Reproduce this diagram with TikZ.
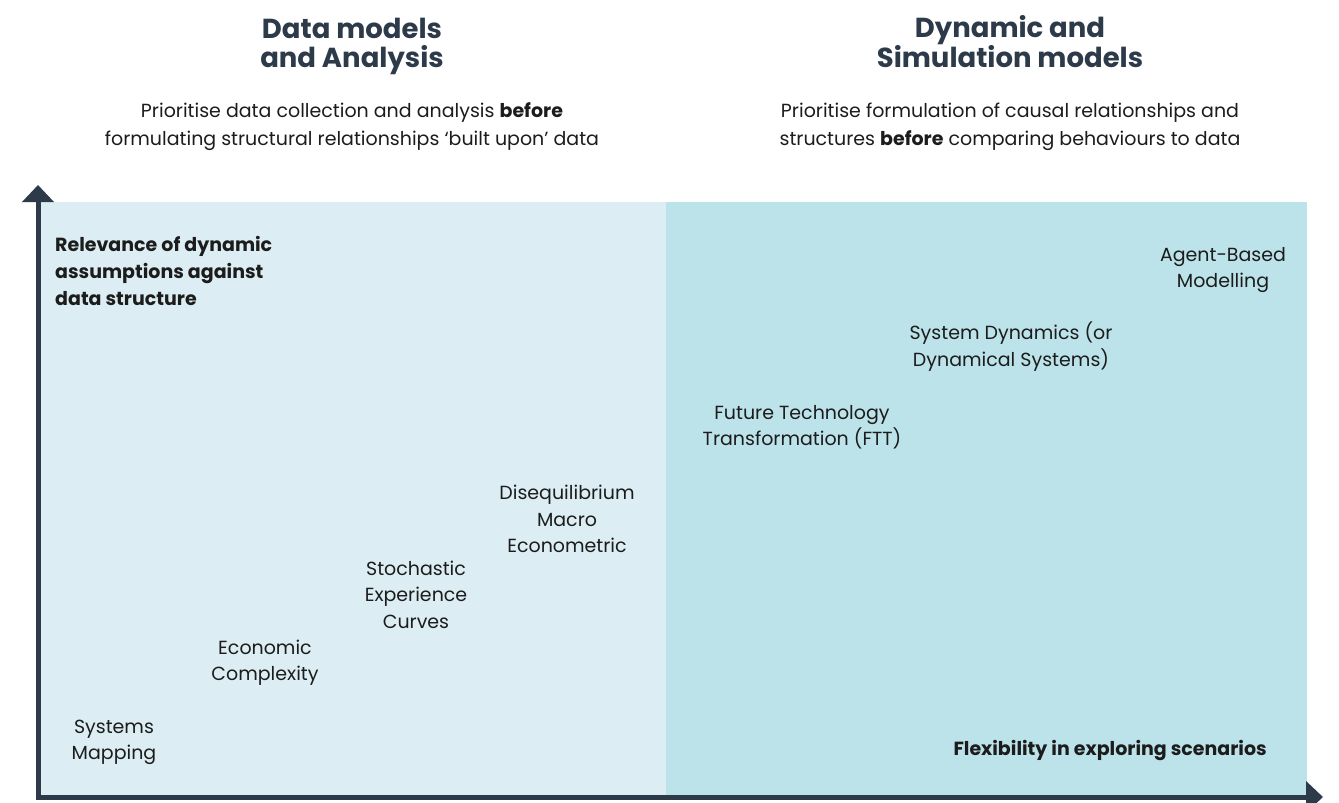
\documentclass[tikz,border=0pt]{standalone}
\usepackage{fontspec}
\setmainfont{Poppins}
\usetikzlibrary{arrows.meta}
\definecolor{navy}{HTML}{2D3A4A}
\definecolor{ink}{HTML}{1C1C1C}
\definecolor{paleblue}{HTML}{DCEEF3}
\definecolor{midblue}{HTML}{BDE3EA}
\tikzset{
  heading/.style={inner sep=0pt, align=center, text=navy,
    font=\fontsize{27.5}{29}\selectfont\bfseries},
  subtitle/.style={inner sep=0pt, align=center, text=ink,
    font=\fontsize{19}{28}\selectfont},
  model/.style={inner sep=0pt, align=center, text=ink,
    font=\fontsize{19}{26.5}\selectfont},
  axislabel/.style={inner sep=0pt, align=left, text=ink,
    font=\fontsize{19}{27}\selectfont\bfseries},
  axis/.style={draw=navy, line width=5pt,
    -{Triangle[length=17pt,width=31pt]}},
}
\begin{document}
\begin{tikzpicture}[x=1pt,y=-1pt]
\useasboundingbox (0,0) rectangle (1339,803);
\begin{scope}
\clip (0,0) rectangle (1339,803);
% quadrant backgrounds
\fill[paleblue] (38,202) rectangle (666,797);
\fill[midblue] (666,202) rectangle (1307,797);
% axes
\coordinate (origin) at (38,797);
\coordinate (ytip) at (38,185);
\coordinate (xtip) at (1323,797);
\draw[axis] ([yshift=2.5pt]origin) -- (ytip);
\draw[axis] ([xshift=-2.5pt]origin) -- (xtip);
\end{scope}
% column headings
\node[heading] (hleft) at (352,46.5) {Data models\\and Analysis};
\node[heading] (hright) at (1010,41.5) {Dynamic and\\Simulation models};
\node[subtitle] (sleft) at (352,127) {Prioritise data collection and analysis \textbf{before}\\formulating structural relationships ‘built upon’ data};
\node[subtitle] (sright) at (1010,127) {Prioritise formulation of causal relationships and\\structures \textbf{before} comparing behaviours to data};
% axis labels
\node[axislabel, anchor=west] (ylabel) at (55,271) {Relevance of dynamic\\assumptions against\\data structure};
\node[axislabel, anchor=east] (xlabel) at (1267,750) {Flexibility in exploring scenarios};
% modelling approaches
\node[model] (abm) at (1223,270) {Agent-Based\\Modelling};
\node[model] (sd) at (1011,346.5) {System Dynamics (or\\Dynamical Systems)};
\node[model] (ftt) at (802,427) {Future Technology\\Transformation (FTT)};
\node[model] (dme) at (567,519) {Disequilibrium\\Macro\\Econometric};
\node[model] (sec) at (416,594.5) {Stochastic\\Experience\\Curves};
\node[model] (ec) at (265,662.5) {Economic\\Complexity};
\node[model] (sm) at (114,742.5) {Systems\\Mapping};
\end{tikzpicture}
\end{document}
